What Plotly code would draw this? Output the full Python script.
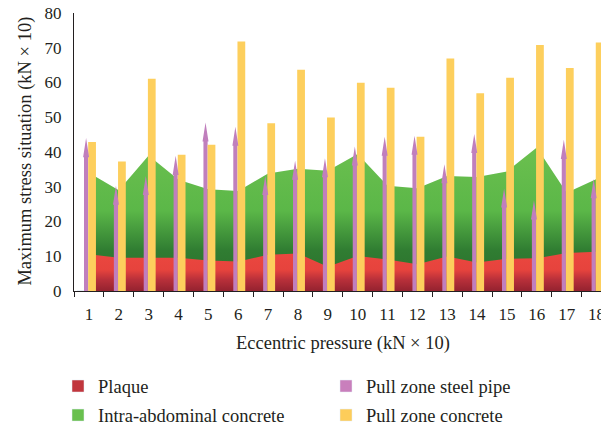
import plotly.graph_objects as go

# Eccentric pressure steps (kN x 10)
pressure = list(range(1, 19))

# Maximum stress values per component (kN x 10)
plaque = [10.6, 9.6, 9.6, 9.6, 8.8, 8.5, 10.4, 10.8, 7.0, 10.1, 9.1, 7.7, 9.9, 8.2, 9.3, 9.4, 10.9, 11.3]
intra_abdominal = [34.0, 29.0, 39.0, 32.0, 29.3, 28.8, 33.8, 35.2, 34.6, 39.4, 30.3, 29.6, 33.1, 32.8, 34.4, 41.3, 28.3, 32.2]
steel_pipe = [44.0, 30.3, 33.1, 38.9, 48.5, 47.3, 33.1, 37.5, 38.2, 41.6, 44.4, 44.7, 36.5, 45.2, 29.5, 26.1, 43.5, 32.2]
pull_concrete = [42.9, 37.3, 61.1, 39.2, 42.1, 71.8, 48.3, 63.7, 49.9, 59.9, 58.5, 44.4, 66.9, 56.9, 61.4, 70.8, 64.2, 71.5]

X_TITLE = "Eccentric pressure (kN × 10)"
Y_TITLE = "Maximum stress situation (kN × 10)"

FONT = "Liberation Serif"
INK = "#231f20"
PIPE_COLOR = "#c07fbd"
CONC_COLOR = "#fdcf5d"

X_RANGE = [0.5, 18.15]
Y_RANGE = [0, 80]

# bar geometry in category units
PIPE_OFFSET, PIPE_WIDTH = -0.165, 0.14
CONC_OFFSET, CONC_WIDTH = -0.025, 0.26
HEAD_LEN, HEAD_HALF = 5.5, 0.1

fig = go.Figure()

# background areas (main axes, drawn underneath the bars)
fig.add_trace(go.Scatter(
    x=pressure, y=intra_abdominal, mode="lines", line=dict(width=0),
    fill="tozeroy",
    fillgradient=dict(type="vertical", start=0, stop=42,
                      colorscale=[[0, "#2a6a2b"], [0.28, "#307d32"],
                                  [0.55, "#5bb748"], [1, "#6cc04f"]]),
    showlegend=False, hoverinfo="skip"))
fig.add_trace(go.Scatter(
    x=pressure, y=plaque, mode="lines", line=dict(width=0),
    fill="tozeroy",
    fillgradient=dict(type="vertical", start=0, stop=11,
                      colorscale=[[0, "#94222f"], [0.3, "#b9303a"],
                                  [0.55, "#e6433d"], [1, "#eb473f"]]),
    showlegend=False, hoverinfo="skip"))

# steel pipe arrows: shaft as bars, heads as filled triangles
fig.add_trace(go.Bar(
    x=pressure, y=[v - HEAD_LEN + 0.5 for v in steel_pipe],
    offset=PIPE_OFFSET, width=PIPE_WIDTH,
    marker=dict(color=PIPE_COLOR, line=dict(width=0)),
    xaxis="x2", yaxis="y2", showlegend=False, hoverinfo="skip"))

head_x, head_y = [], []
for c, v in zip(pressure, steel_pipe):
    mid = c + PIPE_OFFSET + PIPE_WIDTH / 2
    head_x += [mid - HEAD_HALF, mid, mid + HEAD_HALF, None]
    head_y += [v - HEAD_LEN, v, v - HEAD_LEN, None]
fig.add_trace(go.Scatter(
    x=head_x, y=head_y, mode="lines", line=dict(width=0, color=PIPE_COLOR),
    fill="toself", fillcolor=PIPE_COLOR,
    xaxis="x2", yaxis="y2", showlegend=False, hoverinfo="skip"))

fig.add_trace(go.Bar(
    x=pressure, y=pull_concrete, offset=CONC_OFFSET, width=CONC_WIDTH,
    marker=dict(color=CONC_COLOR, line=dict(width=0)),
    xaxis="x2", yaxis="y2", showlegend=False, hoverinfo="skip"))

# legend entries
legend_items = [
    ("Plaque", "#c1363d", "legend"),
    ("Intra-abdominal concrete", "#69c04e", "legend"),
    ("Pull zone steel pipe", "#c97fbc", "legend2"),
    ("Pull zone concrete", "#fdcd5a", "legend2"),
]
for name, color, lg in legend_items:
    fig.add_trace(go.Bar(
        x=[1], y=[0], name=name, marker=dict(color=color),
        legend=lg, legendgroup=name, showlegend=True, hoverinfo="skip"))

boundaries = [c - 0.5 for c in pressure] + [pressure[-1] + 0.5]

axis_font = dict(family=FONT, size=17, color=INK)
title_font = dict(family=FONT, size=18.5, color=INK)
legend_font = dict(family=FONT, size=18.5, color=INK)

fig.update_layout(
    width=601, height=428,
    margin=dict(l=74, r=0, t=13, b=137, autoexpand=False),
    paper_bgcolor="white", plot_bgcolor="white",
    barmode="overlay",
    xaxis=dict(
        range=X_RANGE, tickmode="array", tickvals=pressure,
        ticktext=[str(p) for p in pressure],
        ticks="", showgrid=False, zeroline=False, automargin=False,
        showline=True, linecolor=INK, linewidth=1.3,
        minor=dict(tickmode="array", tickvals=boundaries, ticks="outside",
                   ticklen=5, tickwidth=1.3, tickcolor=INK, showgrid=False),
        tickfont=axis_font, ticklabelstandoff=7, ticklabeloverflow="allow",
    ),
    yaxis=dict(
        range=Y_RANGE, tickmode="array", tickvals=list(range(0, 81, 10)),
        ticks="", showgrid=False, zeroline=False, automargin=False,
        showline=True, linecolor=INK, linewidth=1.3,
        tickfont=axis_font, ticklabelstandoff=8,
    ),
    xaxis2=dict(overlaying="x", range=X_RANGE, visible=False, automargin=False),
    yaxis2=dict(overlaying="y", range=Y_RANGE, visible=False, automargin=False),
    legend=dict(x=58 / 601, y=1 - 367.5 / 428, xref="container", yref="container",
                xanchor="left", yanchor="top", font=legend_font,
                tracegroupgap=2, bgcolor="rgba(0,0,0,0)"),
    legend2=dict(x=326 / 601, y=1 - 367.5 / 428, xref="container", yref="container",
                 xanchor="left", yanchor="top", font=legend_font,
                 tracegroupgap=2, bgcolor="rgba(0,0,0,0)"),
    annotations=[
        dict(text=X_TITLE, xref="paper", yref="paper", x=0.511, y=-0.188,
             xanchor="center", yanchor="middle", showarrow=False, font=title_font),
        dict(text=Y_TITLE, xref="paper", yref="paper", x=-0.0911, y=0.505,
             xanchor="center", yanchor="middle", textangle=-90, showarrow=False,
             font=title_font),
    ],
)

fig.write_html("out.html")
